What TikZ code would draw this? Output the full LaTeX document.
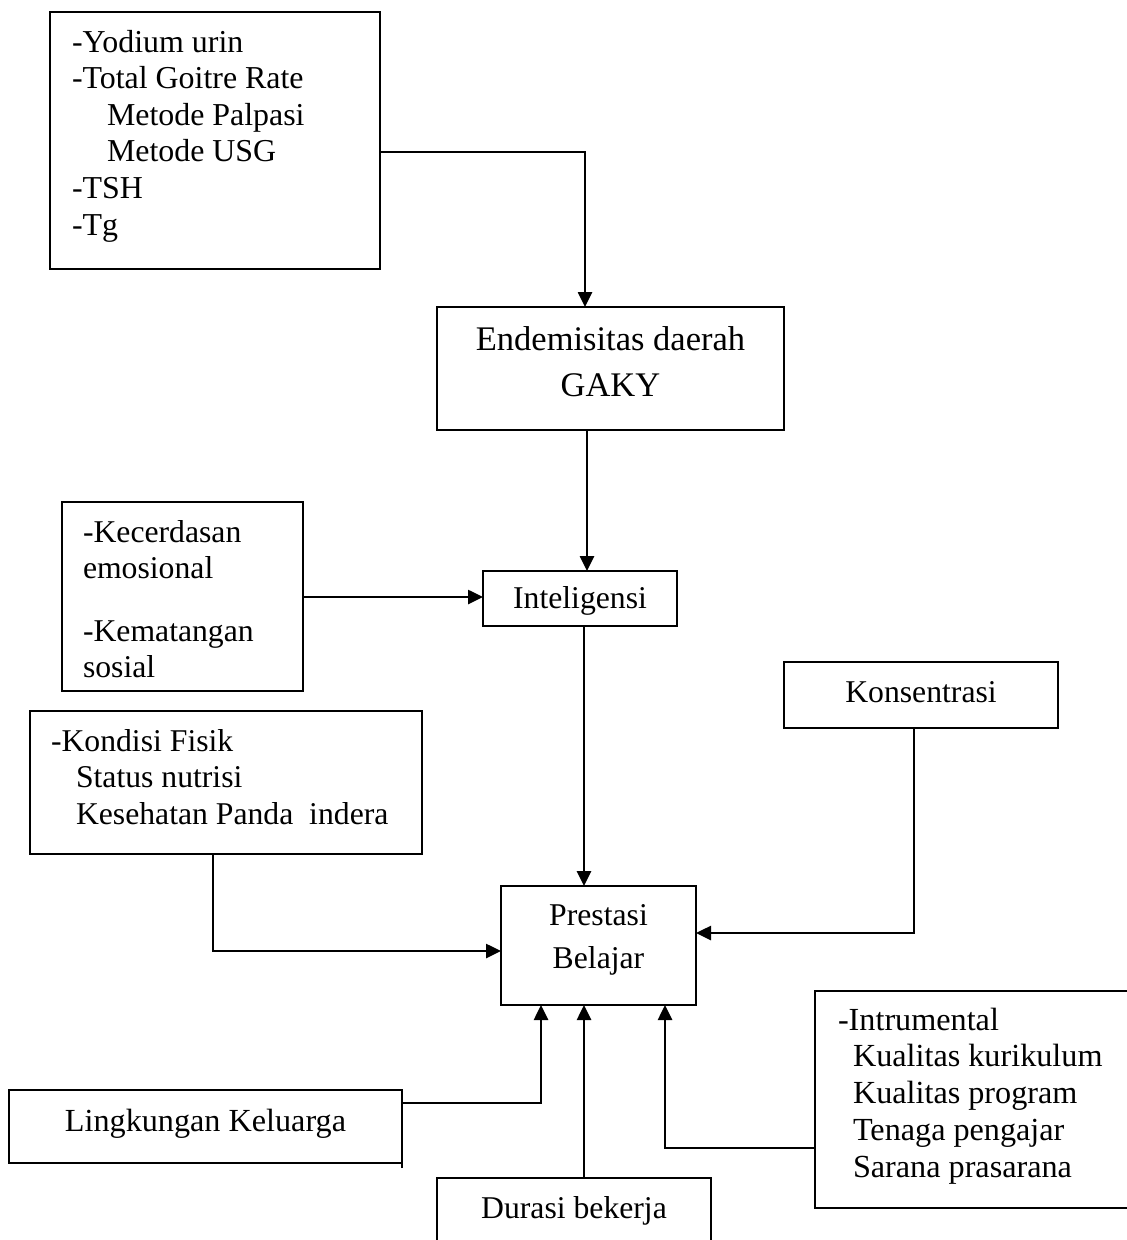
\documentclass[tikz,border=0pt]{standalone}
\usepackage{fontspec}
\setmainfont{Liberation Serif}
\usetikzlibrary{arrows.meta}
\newcommand{\myfs}[2]{\fontsize{#1}{#2}\selectfont}
\newcommand{\myind}[1]{\hspace*{#1}}
\tikzset{
  box/.style={draw, line width=1.8pt, rectangle, inner sep=0pt, outer sep=0pt},
  txt/.style={inner sep=0pt, outer sep=0pt},
  conn/.style={line width=2.6pt, -{Triangle[length=15pt,width=14pt]}},
}
\begin{document}
\begin{tikzpicture}[x=1pt,y=-1pt]
\useasboundingbox (0,0) rectangle (1127,1240);
\clip (0,0) rectangle (1127,1240);
\fill[white] (0,0) rectangle (1127,1240);

% boxes
\node[box, minimum width=330pt, minimum height=257pt] (tl) at (215,140.5) {};
\node[box, minimum width=347pt, minimum height=123pt] (endem) at (610.5,368.5) {};
\node[box, minimum width=194pt, minimum height=55pt] (intel) at (580,598.5) {};
\node[box, minimum width=241pt, minimum height=189pt] (kec) at (182.5,596.5) {};
\node[box, minimum width=274pt, minimum height=66pt] (kons) at (921,695) {};
\node[box, minimum width=392pt, minimum height=143pt] (kond) at (226,782.5) {};
\node[box, minimum width=195pt, minimum height=119pt] (prest) at (598.5,945.5) {};
\node[box, minimum width=325pt, minimum height=217pt] (instr) at (977.5,1099.5) {};
\node[box, minimum width=393pt, minimum height=73pt] (lk) at (205.5,1126.5) {};
\node[box, minimum width=274pt, minimum height=77pt] (dur) at (574,1216.5) {};

% texts
\node[txt, anchor=base west] (tlT) at (72,52) {\myfs{31.9}{36.6}\begin{tabular}[t]{@{}l@{}}
-Yodium urin\\
-Total Goitre Rate\\
\myind{35pt}Metode Palpasi\\
\myind{35pt}Metode USG\\
-TSH\\
-Tg
\end{tabular}};
\node[txt, anchor=base] (endemT) at (610.5,350) {\myfs{34.5}{46}\begin{tabular}[t]{@{}c@{}}
Endemisitas daerah\\
GAKY
\end{tabular}};
\node[txt, anchor=base] (intelT) at (580,608) {\myfs{31.7}{36.6}Inteligensi};
\node[txt, anchor=base west] (kecT) at (83,542) {\myfs{31.7}{36.2}\begin{tabular}[t]{@{}l@{}}
-Kecerdasan\\
emosional\\[27pt]
-Kematangan\\
sosial
\end{tabular}};
\node[txt, anchor=base] (konsT) at (921,702) {\myfs{31.7}{36.6}Konsentrasi};
\node[txt, anchor=base west] (kondT) at (51,751) {\myfs{31.7}{36.5}\begin{tabular}[t]{@{}l@{}}
-Kondisi Fisik\\
\myind{25pt}Status nutrisi\\
\myind{25pt}Kesehatan Panda\ \ indera
\end{tabular}};
\node[txt, anchor=base] (prestT) at (598.5,925) {\myfs{31.7}{43}\begin{tabular}[t]{@{}c@{}}
Prestasi\\
Belajar
\end{tabular}};
\node[txt, anchor=base west] (instrT) at (838,1030) {\myfs{32.2}{36.75}\begin{tabular}[t]{@{}l@{}}
-Intrumental\\
\myind{15pt}Kualitas kurikulum\\
\myind{15pt}Kualitas program\\
\myind{15pt}Tenaga pengajar\\
\myind{15pt}Sarana prasarana
\end{tabular}};
\node[txt, anchor=base] (lkT) at (205.5,1131) {\myfs{32.2}{36.6}Lingkungan Keluarga};
\node[txt, anchor=base] (durT) at (574,1218) {\myfs{31.7}{36.6}Durasi bekerja};

% connector waypoints
\coordinate (t1) at (380,95);
\coordinate (b1) at (585,152);
\coordinate (e1) at (587,430);
\coordinate (k1) at (303,597);
\coordinate (i1) at (584,626);
\coordinate (k2a) at (937,728);
\coordinate (k2) at (914,933);
\coordinate (d1) at (204,854);
\coordinate (d2) at (213,951);
\coordinate (l0) at (402,1168);
\coordinate (l1) at (541,1103);
\coordinate (u1) at (584,1178);
\coordinate (s1) at (665,1148);

% connectors
\draw[conn] (tl.east |- t1) |- (b1) -- (endem.north -| b1);
\draw[conn] (endem.south -| e1) -- (intel.north -| e1);
\draw[conn] (kec.east |- k1) -- (intel.west |- k1);
\draw[conn] (intel.south -| i1) -- (prest.north -| i1);
\draw[conn] (kons.south -| k2a) -- (kons.south -| k2) -- (k2) -- (prest.east |- k2);
\draw[conn] (kond.south -| d1) -- (kond.south -| d2) -- (d2) -- (prest.west |- d2);
\draw[conn] (lk.east |- l0) -- (lk.east |- l1) -- (l1) -- (prest.south -| l1);
\draw[conn] (dur.north -| u1) -- (prest.south -| u1);
\draw[conn] (instr.south west) -- (instr.west |- s1) -- (s1) -- (prest.south -| s1);
\end{tikzpicture}
\end{document}
